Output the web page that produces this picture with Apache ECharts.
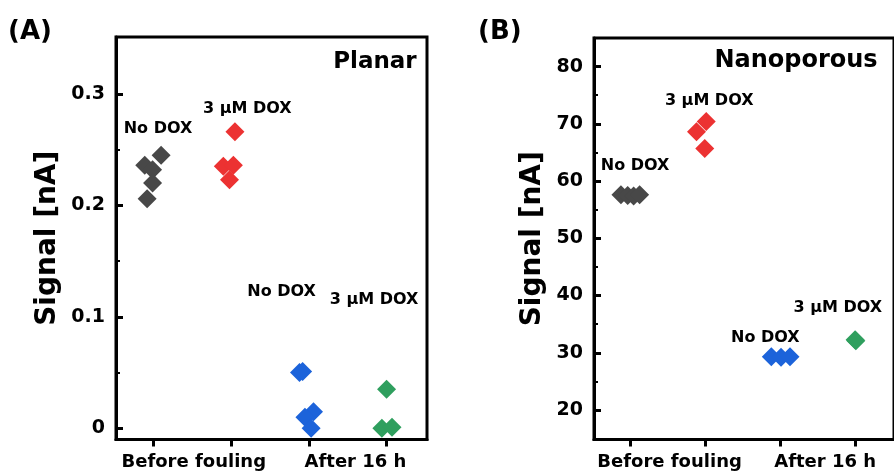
<!DOCTYPE html>
<html>
<head>
<meta charset="utf-8">
<script src="https://cdn.jsdelivr.net/npm/echarts@6/dist/echarts.min.js"></script>
<style>html,body{margin:0;padding:0;background:#fff;}#c{width:894px;height:472px;}</style>
</head>
<body>
<div id="c"></div>
<script>
// ---------- data ----------
const groupLabels = ['Before fouling', 'After 16 h'];
const groupLabelPos = [1.52, 3.6];
const sampleTicks = [1, 2, 3, 4];

// Panel A (Planar)
const aGrayX  = [1.10, 0.89, 0.99, 0.99, 0.92];
const aGrayY  = [0.245, 0.236, 0.232, 0.220, 0.206];
const aRedX   = [2.05, 1.90, 2.03, 1.98];
const aRedY   = [0.266, 0.235, 0.236, 0.223];
const aBlueX  = [2.88, 2.92, 3.06, 2.95, 3.03];
const aBlueY  = [0.050, 0.051, 0.015, 0.010, 0.000];
const aGreenX = [4.00, 3.94, 4.07];
const aGreenY = [0.035, 0.000, 0.001];
const aMajor = [0, 0.1, 0.2, 0.3];
const aMinor = [0.05, 0.15, 0.25];
const aNotes = [
  ['No DOX', 1.06, 0.269], ['3 µM DOX', 2.21, 0.2866],
  ['No DOX', 2.65, 0.1228], ['3 µM DOX', 3.84, 0.1151]
];
const aTitle = ['Planar', 3.85, 0.3287];

// Panel B (Nanoporous)
const bGrayX  = [0.87, 0.96, 1.04, 1.12];
const bGrayY  = [57.6, 57.5, 57.4, 57.6];
const bRedX   = [2.01, 1.88, 1.99];
const bRedY   = [70.4, 68.6, 65.7];
const bBlueX  = [2.88, 3.01, 3.13];
const bBlueY  = [29.3, 29.2, 29.3];
const bGreenX = [4.00, 4.01];
const bGreenY = [32.3, 32.1];
const bMajor = [20, 30, 40, 50, 60, 70, 80];
const bMinor = [15, 25, 35, 45, 55, 65, 75];
const bNotes = [
  ['No DOX', 1.06, 62.64], ['3 µM DOX', 2.05, 74.0],
  ['No DOX', 2.80, 32.67], ['3 µM DOX', 3.77, 37.9]
];
const bTitle = ['Nanoporous', 3.21, 81.0];

const colors = { gray: '#484848', red: '#ec3232', blue: '#1c63da', green: '#2f9f5e' };
const FONT = 'DejaVu Sans';

// ---------- build ----------
const zip = (xs, ys) => xs.map((x, i) => [x, ys[i]]);

function xAxes(gi, min, max) {
  return {
    type: 'value', gridIndex: gi, min: min, max: max,
    axisLine: { show: true, onZero: false, lineStyle: { color: '#000', width: 3 } },
    axisTick: { show: true, inside: false, length: 7, customValues: sampleTicks, lineStyle: { color: '#000', width: 3 } },
    axisLabel: {
      show: true, customValues: groupLabelPos, margin: 14,
      formatter: v => { const i = groupLabelPos.indexOf(v); return i >= 0 ? groupLabels[i] : ''; },
      color: '#000', fontFamily: FONT, fontWeight: 'bold', fontSize: 18
    },
    splitLine: { show: false }
  };
}
function yMain(gi, min, max, major, fmt, gap) {
  return {
    type: 'value', gridIndex: gi, min: min, max: max,
    name: 'Signal [nA]', nameLocation: 'middle', nameGap: gap,
    nameTextStyle: { color: '#000', fontFamily: FONT, fontWeight: 'bold', fontSize: 28 },
    axisLine: { show: true, onZero: false, lineStyle: { color: '#000', width: 3 } },
    axisTick: { show: true, inside: true, length: 7, customValues: major, lineStyle: { color: '#000', width: 3 } },
    axisLabel: { show: true, customValues: major, margin: 11, formatter: fmt, color: '#000', fontFamily: FONT, fontWeight: 'bold', fontSize: 19 },
    splitLine: { show: false }
  };
}
function yMinor(gi, min, max, minor) {
  return {
    type: 'value', gridIndex: gi, min: min, max: max, position: 'left',
    axisLine: { show: false },
    axisTick: { show: true, inside: true, length: 4, customValues: minor, lineStyle: { color: '#000', width: 2 } },
    axisLabel: { show: false }, splitLine: { show: false }
  };
}
function pts(xi, yi, xs, ys, c) {
  return { type: 'scatter', xAxisIndex: xi, yAxisIndex: yi, symbol: 'diamond', symbolSize: 19,
    itemStyle: { color: c, opacity: 1 }, data: zip(xs, ys), z: 3 };
}
function notes(xi, yi, list, title, tsize) {
  const data = list.map(n => ({ name: n[0], value: [n[1], n[2]], label: { fontSize: 16 } }));
  data.push({ name: title[0], value: [title[1], title[2]], label: { fontSize: tsize } });
  return { type: 'scatter', xAxisIndex: xi, yAxisIndex: yi, symbolSize: 0, silent: true, z: 4,
    itemStyle: { opacity: 1 },
    label: { show: true, position: 'inside', formatter: p => p.name, color: '#000', opacity: 1, fontFamily: FONT, fontWeight: 'bold' },
    data: data };
}

const aMin = -0.01, aMax = 0.351, bMin = 14.85, bMax = 85;
const option = {
  animation: false,
  backgroundColor: '#fff',
  title: [
    { text: '(A)', left: 8, top: 19, padding: 0, textStyle: { color: '#000', fontFamily: FONT, fontWeight: 'bold', fontSize: 26 } },
    { text: '(B)', left: 478, top: 19, padding: 0, textStyle: { color: '#000', fontFamily: FONT, fontWeight: 'bold', fontSize: 26 } }
  ],
  grid: [
    { left: 116, top: 37, width: 311, height: 402.5, show: true, borderColor: '#000', borderWidth: 3, backgroundColor: 'transparent' },
    { left: 594, top: 38, width: 313, height: 401.5, show: true, borderColor: '#000', borderWidth: 3, backgroundColor: 'transparent' }
  ],
  xAxis: [ xAxes(0, 0.52, 4.52), xAxes(1, 0.51, 4.52) ],
  yAxis: [
    yMain(0, aMin, aMax, aMajor, v => (v === 0 ? '0' : v.toFixed(1)), 54),
    yMinor(0, aMin, aMax, aMinor),
    yMain(1, bMin, bMax, bMajor, v => String(v), 47),
    yMinor(1, bMin, bMax, bMinor)
  ],
  series: [
    pts(0, 0, aGrayX, aGrayY, colors.gray),
    pts(0, 0, aRedX, aRedY, colors.red),
    pts(0, 0, aBlueX, aBlueY, colors.blue),
    pts(0, 0, aGreenX, aGreenY, colors.green),
    notes(0, 0, aNotes, aTitle, 23),
    pts(1, 2, bGrayX, bGrayY, colors.gray),
    pts(1, 2, bRedX, bRedY, colors.red),
    pts(1, 2, bBlueX, bBlueY, colors.blue),
    pts(1, 2, bGreenX, bGreenY, colors.green),
    notes(1, 2, bNotes, bTitle, 24)
  ]
};
const chart = echarts.init(document.getElementById('c'), null, { renderer: 'canvas' });
chart.setOption(option);
</script>
</body>
</html>
